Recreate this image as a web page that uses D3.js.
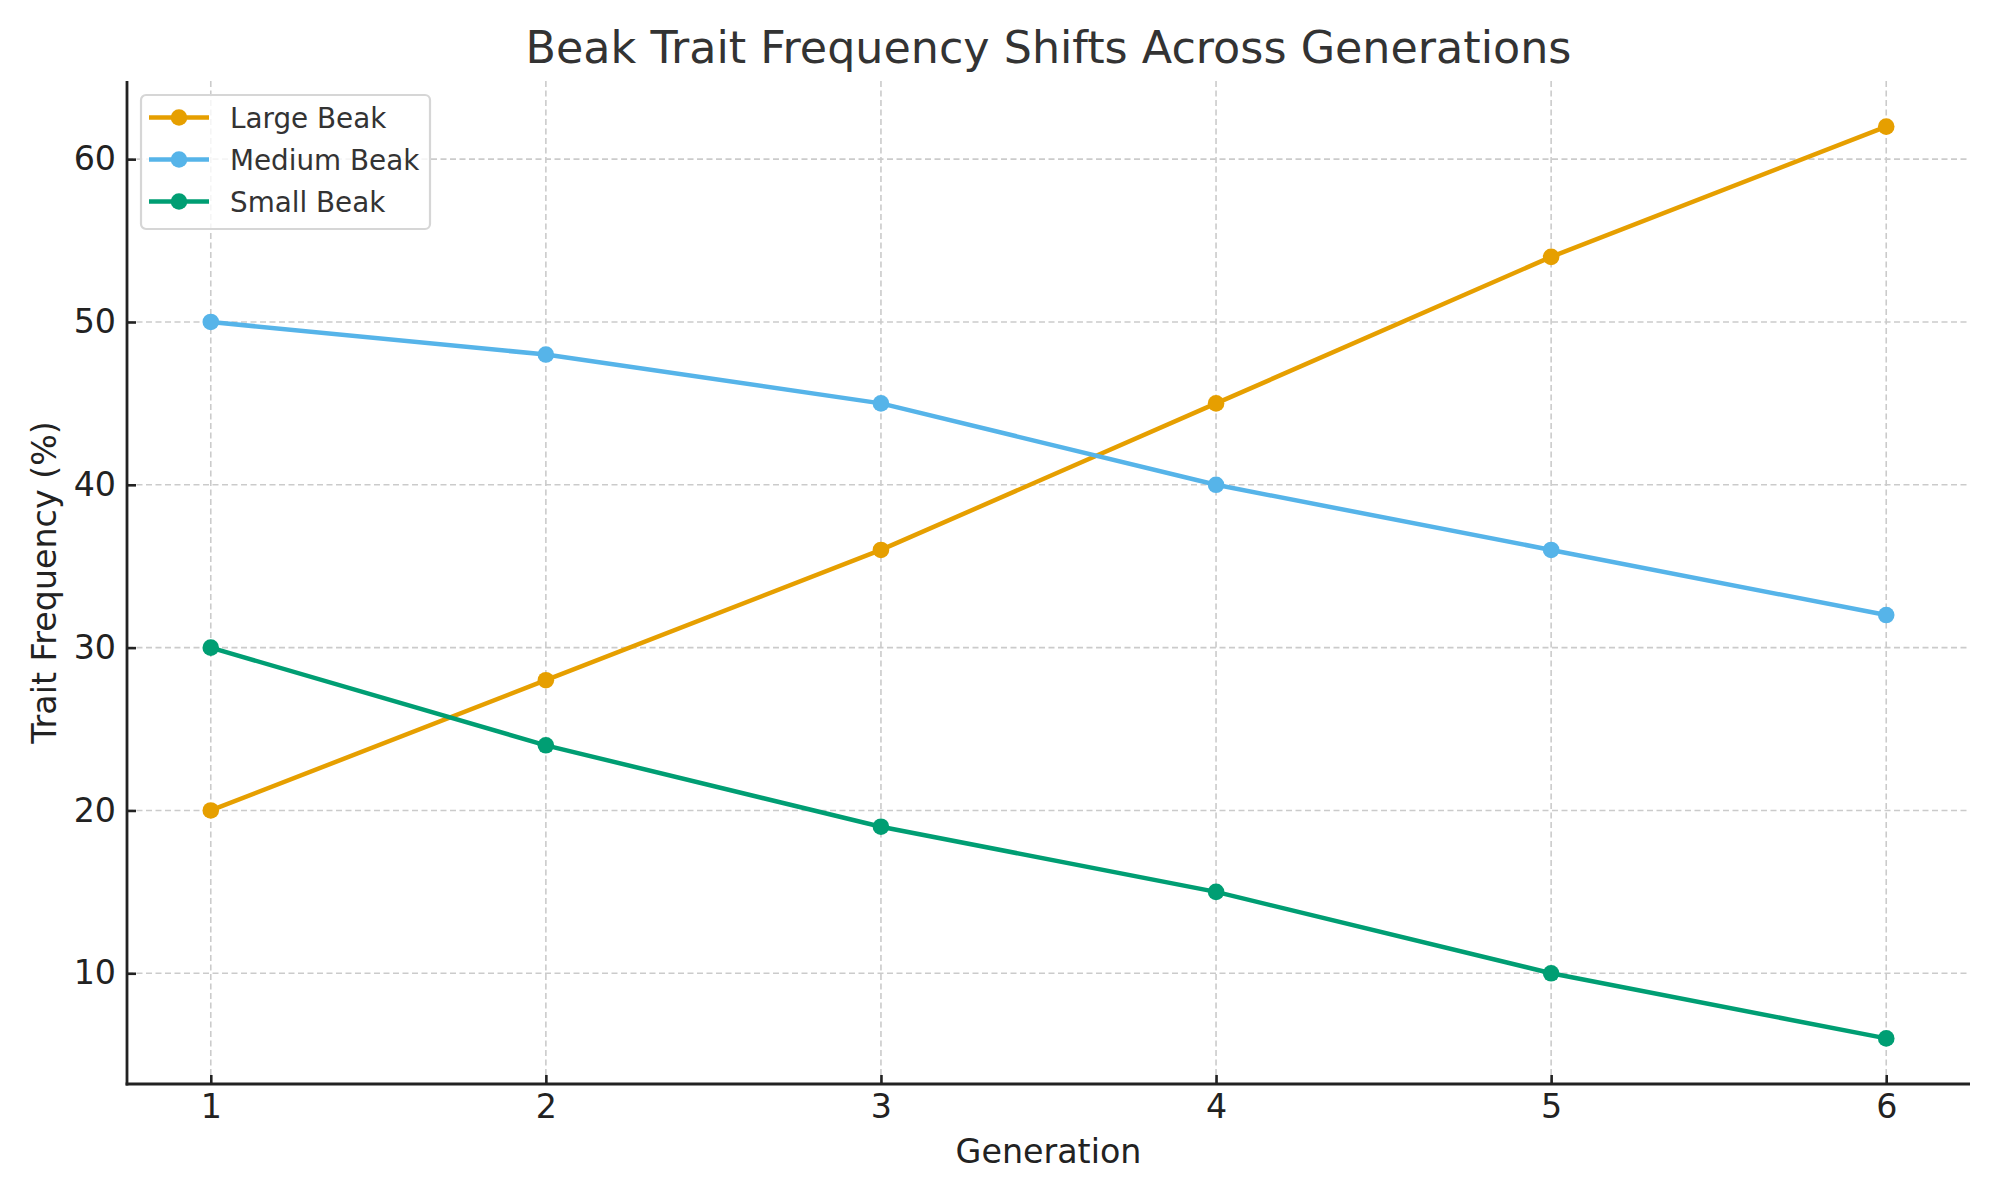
<!DOCTYPE html>
<html>
<head>
<meta charset="utf-8">
<script src="https://cdn.jsdelivr.net/npm/d3@7"></script>
<style>
  body { margin: 0; background: #fff; }
  svg text { font-family: "DejaVu Sans", sans-serif; }
</style>
</head>
<body>
<svg id="chart" width="2000" height="1200"></svg>
<script>
// data
var generations = [1, 2, 3, 4, 5, 6];
var largeBeak = [20, 28, 36, 45, 54, 62];
var mediumBeak = [50, 48, 45, 40, 36, 32];
var smallBeak = [30, 24, 19, 15, 10, 6];
var yTicks = [10, 20, 30, 40, 50, 60];

var seriesNames = ["Large Beak", "Medium Beak", "Small Beak"];
var seriesColors = ["#E69F00", "#56B4E9", "#009E73"];
var series = [largeBeak, mediumBeak, smallBeak];

var svg = d3.select("#chart");

var margin = {top: 81, right: 30, bottom: 116, left: 127},
    width = 2000 - margin.left - margin.right,
    height = 1200 - margin.top - margin.bottom;

var g = svg.append("g")
  .attr("transform", "translate(" + margin.left + "," + margin.top + ")");

// matplotlib-ish 5% padding on both axes
var xPad = (d3.max(generations) - d3.min(generations)) * 0.05;
var x = d3.scaleLinear()
  .domain([d3.min(generations) - xPad, d3.max(generations) + xPad])
  .range([0, width]);

var allVals = largeBeak.concat(mediumBeak, smallBeak);
var yPad = (d3.max(allVals) - d3.min(allVals)) * 0.05;
var y = d3.scaleLinear()
  .domain([d3.min(allVals) - yPad, d3.max(allVals) + yPad])
  .range([height, 0]);

// grid
g.append("g").attr("class", "grid")
  .selectAll("line.gx")
  .data(generations)
  .enter().append("line")
  .attr("x1", d => x(d)).attr("x2", d => x(d))
  .attr("y1", 0).attr("y2", height)
  .style("stroke", "#cbcbcb").style("stroke-width", 1.6)
  .style("stroke-dasharray", "6,3.5");

g.append("g").attr("class", "grid")
  .selectAll("line.gy")
  .data(yTicks)
  .enter().append("line")
  .attr("x1", 0).attr("x2", width)
  .attr("y1", d => y(d)).attr("y2", d => y(d))
  .style("stroke", "#cbcbcb").style("stroke-width", 1.6)
  .style("stroke-dasharray", "6,3.5");

// axes (ticks point inward)
var xAxis = d3.axisBottom(x).tickValues(generations).tickSize(-9).tickPadding(10).tickFormat(d3.format("d"));
var yAxis = d3.axisLeft(y).tickValues(yTicks).tickSize(-9).tickPadding(11).tickFormat(d3.format("d"));

var gx = g.append("g").attr("transform", "translate(0," + height + ")").call(xAxis);
var gy = g.append("g").call(yAxis);

[gx, gy].forEach(function(a) {
  a.attr("font-size", null).attr("font-family", null);
  a.select(".domain").remove();
  a.selectAll(".tick line").style("stroke", "#222").style("stroke-width", 2.6);
  a.selectAll(".tick text").style("font-size", "33.3px").style("fill", "#222");
});

// spines left + bottom
g.append("line").attr("x1", 0).attr("x2", 0).attr("y1", 0).attr("y2", height + 1.4)
  .style("stroke", "#222").style("stroke-width", 2.8);
g.append("line").attr("x1", -1.4).attr("x2", width).attr("y1", height).attr("y2", height)
  .style("stroke", "#222").style("stroke-width", 2.8);

// lines + markers
var line = d3.line()
  .x((d, i) => x(generations[i]))
  .y(d => y(d));

series.forEach(function(vals, si) {
  g.append("path")
    .datum(vals)
    .attr("d", line)
    .style("fill", "none")
    .style("stroke", seriesColors[si])
    .style("stroke-width", 4.5)
    .style("stroke-linejoin", "round");

  g.selectAll(".dot" + si)
    .data(vals)
    .enter().append("circle")
    .attr("cx", (d, i) => x(generations[i]))
    .attr("cy", d => y(d))
    .attr("r", 8.3)
    .style("fill", seriesColors[si]);
});

// title + axis labels
svg.append("text")
  .attr("x", margin.left + width / 2)
  .attr("y", 63)
  .attr("text-anchor", "middle")
  .style("font-size", "44.4px")
  .style("fill", "#333")
  .text("Beak Trait Frequency Shifts Across Generations");

svg.append("text")
  .attr("x", margin.left + width / 2)
  .attr("y", 1163)
  .attr("text-anchor", "middle")
  .style("font-size", "33.3px")
  .style("fill", "#222")
  .text("Generation");

svg.append("text")
  .attr("transform", "translate(56," + (margin.top + height / 2) + ") rotate(-90)")
  .attr("text-anchor", "middle")
  .style("font-size", "33.3px")
  .style("fill", "#222")
  .text("Trait Frequency (%)");

// legend
var legend = svg.append("g").attr("transform", "translate(141,95)");
legend.append("rect")
  .attr("width", 289).attr("height", 134)
  .attr("rx", 5).attr("ry", 5)
  .style("fill", "rgba(255,255,255,0.8)")
  .style("stroke", "#d6d6d6").style("stroke-width", 2.2);

seriesNames.forEach(function(name, i) {
  var ly = 22.5 + i * 42;
  legend.append("line")
    .attr("x1", 8).attr("x2", 68).attr("y1", ly).attr("y2", ly)
    .style("stroke", seriesColors[i]).style("stroke-width", 4.5);
  legend.append("circle")
    .attr("cx", 38).attr("cy", ly).attr("r", 8.3)
    .style("fill", seriesColors[i]);
  legend.append("text")
    .attr("x", 89).attr("y", ly)
    .attr("dy", "0.36em")
    .style("font-size", "27.8px")
    .style("fill", "#333")
    .text(name);
});
</script>
</body>
</html>
